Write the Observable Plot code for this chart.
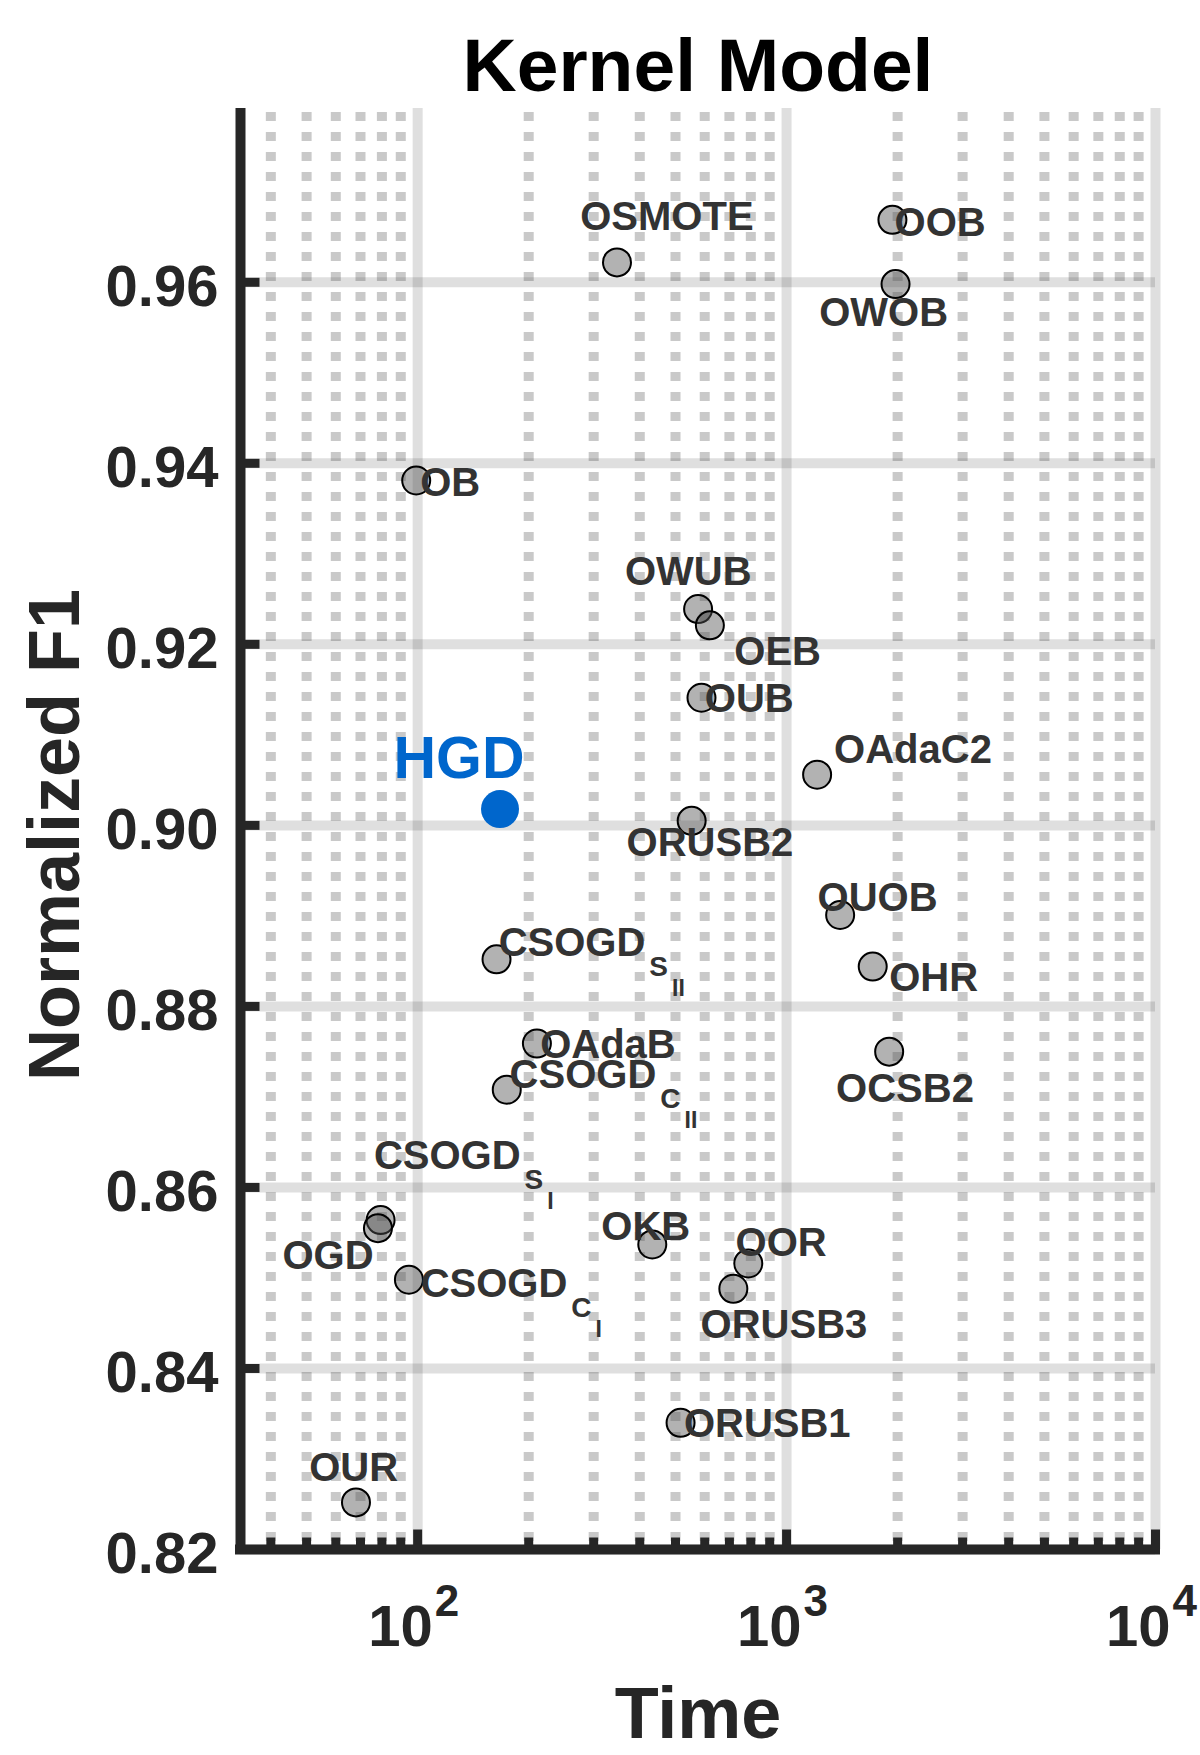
<!DOCTYPE html>
<html>
<head>
<meta charset="utf-8">
<script src="https://cdn.jsdelivr.net/npm/d3@7"></script>
<script src="https://cdn.jsdelivr.net/npm/@observablehq/plot@0.6"></script>
<style>
  html, body { margin: 0; padding: 0; background: #fff; }
</style>
</head>
<body>
<div id="chart"></div>
<script>
// ---- Data ----
const titleText = "Kernel Model";
const xTitle = "Time";
const yTitle = "Normalized F1";

const methods = ["OSMOTE","OOB","OWOB","OB","OWUB","OEB","OUB","OAdaC2","ORUSB2","OUOB","OHR",
  "CSOGD","OAdaB","CSOGD","OCSB2","CSOGD","OGD","CSOGD","OKB","OOR","ORUSB3","ORUSB1","OUR"];
const subscript1 = ["","","","","","","","","","","","S","","C","","S","","C","","","","",""];
const subscript2 = ["","","","","","","","","","","","II","","II","","I","","I","","","","",""];
const times = [347, 1936, 1974, 99.1, 575.7, 619.6, 588, 1210, 553, 1397, 1712,
  163.6, 210.5, 174.4, 1897, 79.35, 78.05, 94.7, 432.5, 787.4, 717.3, 516, 68.05];
const f1Scores = [0.9622, 0.9669, 0.9598, 0.9381, 0.9239, 0.9221, 0.9141, 0.9056, 0.9005, 0.8901, 0.8844,
  0.8852, 0.8759, 0.8708, 0.8750, 0.8564, 0.8555, 0.8498, 0.8537, 0.8516, 0.8488, 0.8340, 0.8252];
// label anchor (left edge, vertical middle) in data units
const labelTimes = [275.9, 1962, 1226, 101.6, 364.6, 721.6, 600.5, 1345, 368.5, 1213, 1897,
  165.8, 214.8, 177.5, 1362, 76.1, 43.0, 101.9, 314.6, 727.5, 584.6, 526.8, 50.8];
const labelF1s = [0.96737, 0.96663, 0.95668, 0.9379, 0.9281, 0.91922, 0.91405, 0.90839, 0.89812, 0.89204, 0.8833,
  0.88707, 0.87584, 0.87253, 0.87096, 0.86359, 0.85254, 0.84941, 0.85577, 0.85402, 0.84491, 0.83394, 0.82914];

const hgdName = ["HGD"];
const hgdTime = [167.2];
const hgdF1 = [0.9018];
const hgdLabelTime = [86.0];
const hgdLabelF1 = [0.90757];

const xDomain = [33.1, 10000];
const yDomain = [0.82, 0.9792];
const xMajor = [100, 1000, 10000];
const xTickBase = ["10", "10", "10"];
const xTickExp = ["2", "3", "4"];
const xMinor = [40, 50, 60, 70, 80, 90, 200, 300, 400, 500, 600, 700, 800, 900,
  2000, 3000, 4000, 5000, 6000, 7000, 8000, 9000];
const yTicks = [0.82, 0.84, 0.86, 0.88, 0.90, 0.92, 0.94, 0.96];
const yTickLabels = ["0.82", "0.84", "0.86", "0.88", "0.90", "0.92", "0.94", "0.96"];

// ---- tables built from arrays ----
const points = methods.map((m, i) => ({name: m, time: times[i], f1: f1Scores[i], lx: labelTimes[i], ly: labelF1s[i]}));
const hgd = hgdName.map((m, i) => ({name: m, time: hgdTime[i], f1: hgdF1[i], lx: hgdLabelTime[i], ly: hgdLabelF1[i]}));
const xTickTable = xMajor.map((v, i) => ({v, base: xTickBase[i], exp: xTickExp[i]}));
const yTickTable = yTicks.map((v, i) => ({v, label: yTickLabels[i]}));

const ink = "#262626";
const font = "'Liberation Sans', Arial, Helvetica, sans-serif";
const tickLine = { draw(context, l) { context.moveTo(0, 0); context.lineTo(0, -l); } };

const chart = Plot.plot({
  width: 1200,
  height: 1755,
  marginLeft: 240,
  marginRight: 45,
  marginTop: 108,
  marginBottom: 206,
  style: {fontFamily: font, background: "#fff", overflow: "visible"},
  x: {type: "log", domain: xDomain, axis: null},
  y: {domain: yDomain, axis: null},
  marks: [
    // grid
    Plot.ruleX(xMinor, {x: d => d, stroke: ink, strokeOpacity: 0.25, strokeWidth: 10, strokeDasharray: "9,11", strokeDashoffset: -4}),
    Plot.ruleX(xMajor, {x: d => d, stroke: ink, strokeOpacity: 0.15, strokeWidth: 10}),
    Plot.ruleY(yTicks, {y: d => d, stroke: ink, strokeOpacity: 0.15, strokeWidth: 10}),
    // points
    Plot.dot(points, {x: "time", y: "f1", r: 14, fill: "#555", fillOpacity: 0.45, stroke: "#000", strokeWidth: 2}),
    Plot.dot(hgd, {x: "time", y: "f1", r: 19, fill: "#0066cc"}),
    // labels
    Plot.text(points, {x: "lx", y: "ly", text: "name", textAnchor: "start", lineAnchor: "bottom", dy: 14,
      fontSize: 40, fontWeight: "bold", fill: "#333"}),
    Plot.text(hgd, {x: "lx", y: "ly", text: "name", textAnchor: "start", lineAnchor: "bottom", dy: 21,
      fontSize: 59, fontWeight: "bold", fill: "#0066cc"}),
    // axes lines
    Plot.ruleX([xDomain[0]], {x: d => d, stroke: ink, strokeWidth: 10}),
    Plot.ruleY([yDomain[0]], {y: d => d, x1: xDomain[0], x2: xDomain[1], stroke: ink, strokeWidth: 10, strokeLinecap: "square"}),
    // ticks (inward)
    Plot.vector(xMajor, {x: d => d, y: yDomain[0], length: 20, anchor: "start", shape: tickLine, stroke: ink, strokeWidth: 9, strokeLinecap: "butt"}),
    Plot.vector(xMinor, {x: d => d, y: yDomain[0], length: 12, anchor: "start", shape: tickLine, stroke: ink, strokeWidth: 9, strokeLinecap: "butt"}),
    Plot.vector(yTicks, {x: xDomain[0], y: d => d, length: 19, rotate: 90, anchor: "start", shape: tickLine, stroke: ink, strokeWidth: 9, strokeLinecap: "butt"}),
    // tick labels
    Plot.text(yTickTable, {y: "v", frameAnchor: "left", text: "label", textAnchor: "end", lineAnchor: "bottom",
      dx: -22, dy: 23.5, fontSize: 58, fontWeight: "bold", fill: ink}),
    Plot.text(xTickTable, {x: "v", frameAnchor: "bottom", text: "base", textAnchor: "end", lineAnchor: "bottom",
      dx: 15, dy: 96, fontSize: 58, fontWeight: "bold", fill: ink}),
    Plot.text(xTickTable, {x: "v", frameAnchor: "bottom", text: "exp", textAnchor: "start", lineAnchor: "bottom",
      dx: 17, dy: 66, fontSize: 44, fontWeight: "bold", fill: ink}),
    // titles
    Plot.text([xTitle], {frameAnchor: "bottom", text: d => d, textAnchor: "middle", lineAnchor: "bottom", dy: 188,
      fontSize: 72, fontWeight: "bold", fill: ink}),
    Plot.text([yTitle], {frameAnchor: "left", text: d => d, textAnchor: "middle", rotate: -90, lineAnchor: "bottom", dx: -162, dy: 6,
      fontSize: 72, fontWeight: "bold", fill: ink}),
    Plot.text([titleText], {frameAnchor: "top", text: d => d, textAnchor: "middle", lineAnchor: "bottom", dy: -18,
      fontSize: 75, fontWeight: "bold", fill: "#000"})
  ]
});

// TeX-like nested subscripts for CSOGD labels
const ns = "http://www.w3.org/2000/svg";
const csogdIdx = methods.map((m, i) => i).filter(i => subscript1[i]);
const csogdTexts = Array.from(chart.querySelectorAll("text")).filter(t => t.textContent === "CSOGD");
csogdTexts.forEach((t, k) => {
  const i = csogdIdx[k];
  if (i === undefined) return;
  const s1 = document.createElementNS(ns, "tspan");
  s1.setAttribute("dx", "4"); s1.setAttribute("dy", "20"); s1.setAttribute("font-size", "28");
  s1.textContent = subscript1[i];
  const s2 = document.createElementNS(ns, "tspan");
  s2.setAttribute("dx", "4"); s2.setAttribute("dy", "20"); s2.setAttribute("font-size", "23");
  s2.textContent = subscript2[i];
  t.appendChild(s1); t.appendChild(s2);
});

document.getElementById("chart").appendChild(chart);
</script>
</body>
</html>
